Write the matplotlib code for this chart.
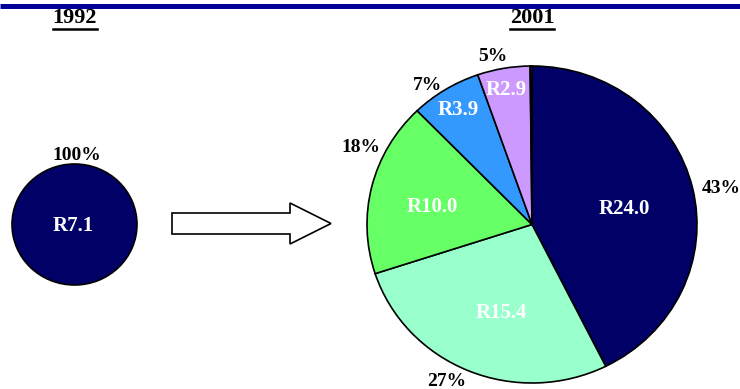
import matplotlib
matplotlib.use("Agg")
import matplotlib.pyplot as plt
from matplotlib.patches import FancyArrow

# Spending (R billion) by component
years = ["1992", "2001"]
values_1992 = [7.1]
values_2001 = [24.0, 15.4, 10.0, 3.9, 2.9, 0.1]
colors_1992 = ["#000066"]
colors_2001 = ["#000066", "#99FFCC", "#66FF66", "#3399FF", "#CC99FF", "#7F7FBF"]

SERIF = ["Liberation Serif", "DejaVu Serif"]
W, H = 740, 389

fig = plt.figure(figsize=(W / 100, H / 100), dpi=100)
fig.patch.set_facecolor("white")


def px_axes(x0, y0, x1, y1, **kw):
    """Axes placed by pixel box (top-left origin)."""
    return fig.add_axes([x0 / W, 1 - y1 / H, (x1 - x0) / W, (y1 - y0) / H], **kw)


def draw_pie(box, vals, cols):
    ax = px_axes(*box)
    wedges, _ = ax.pie(vals, colors=cols, startangle=90, counterclock=False,
                       wedgeprops=dict(edgecolor="black", linewidth=1.2))
    for w in wedges:
        w.set_clip_on(False)
    ax.set_aspect("auto")
    ax.set_xlim(-1, 1)
    ax.set_ylim(-1, 1)
    ax.axis("off")
    return ax


draw_pie((12, 164, 137, 285), values_1992, colors_1992)
draw_pie((367, 66, 697, 383), values_2001, colors_2001)

# Overlay in pixel coordinates for header, arrow and labels
ov = px_axes(0, 0, W, H, zorder=5)
ov.set_xlim(0, W)
ov.set_ylim(H, 0)
ov.axis("off")
ov.patch.set_alpha(0)

ov.plot([0, W], [6, 6], color="#000099", lw=3.6, solid_capstyle="butt")

for yr, cx in zip(years, [75, 532]):
    ov.text(cx, 18, yr, ha="center", va="center", fontsize=16,
            fontweight="bold", family=SERIF)
    ov.plot([cx - 22, cx + 22], [28.5, 28.5], color="black", lw=1.8)

ov.add_patch(FancyArrow(172, 223.5, 159, 0, width=21, head_width=41,
                        head_length=41, length_includes_head=True,
                        facecolor="white", edgecolor="black", linewidth=1.2))

# Value labels inside slices
inner_pos_1992 = [(73, 226)]
inner_pos_2001 = [(624, 209), (501, 313), (432, 207), (458, 110), (506, 90)]
for v, (x, y) in zip(values_1992, inner_pos_1992):
    ov.text(x, y, f"R{v:.1f}", ha="center", va="center", color="white",
            fontsize=15, fontweight="bold", family=SERIF)
for v, (x, y) in zip(values_2001, inner_pos_2001):
    ov.text(x, y, f"R{v:.1f}", ha="center", va="center", color="white",
            fontsize=15, fontweight="bold", family=SERIF)

# Share labels outside slices
pct_pos_1992 = [(77, 155)]
pct_pos_2001 = [(721, 188), (447, 382), (361, 147), (427, 85), (493, 56)]
tot92 = sum(values_1992)
tot01 = sum(values_2001)
for v, (x, y) in zip(values_1992, pct_pos_1992):
    ov.text(x, y, f"{round(v / tot92 * 100)}%", ha="center", va="center",
            fontsize=14, fontweight="bold", family=SERIF)
for v, (x, y) in zip(values_2001, pct_pos_2001):
    ov.text(x, y, f"{round(v / tot01 * 100)}%", ha="center", va="center",
            fontsize=14, fontweight="bold", family=SERIF)

fig.savefig("out.png", dpi=100)
